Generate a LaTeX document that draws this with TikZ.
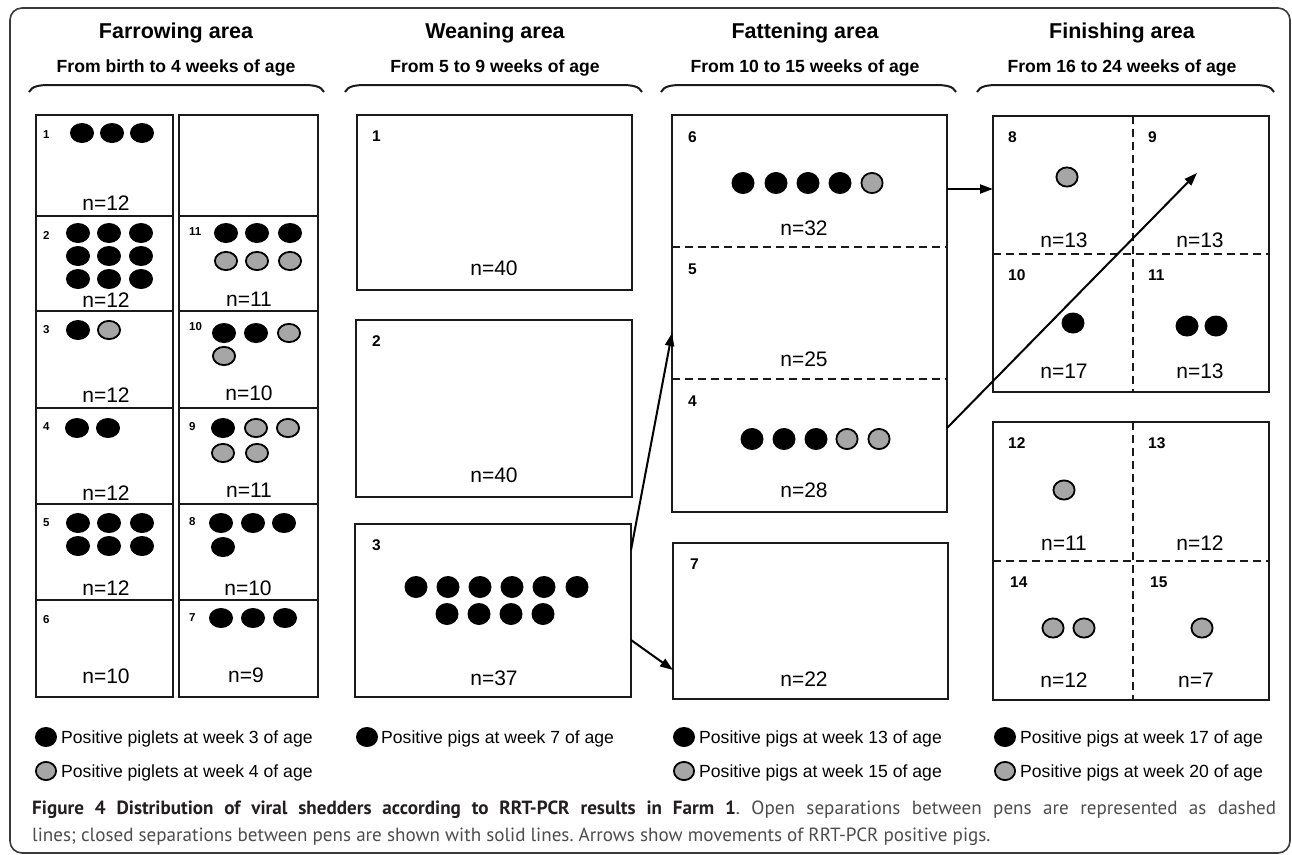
\documentclass[tikz,border=0pt]{standalone}
\usepackage{fontspec}
\setmainfont{Liberation Sans}
\newfontfamily\capfont{PT Sans}
\usetikzlibrary{arrows.meta}
\definecolor{pgray}{HTML}{A6A6A6}
\definecolor{linec}{HTML}{1A1A1A}
\definecolor{capgray}{HTML}{4D4D4D}
\definecolor{capbold}{HTML}{231F20}
\definecolor{framec}{HTML}{3A3A3A}
\newcommand\pigrx{12pt}
\newcommand\pigry{10pt}
\newcommand\bpig[2]{\fill[black] (#1,#2) ellipse [x radius=\pigrx, y radius=\pigry];}
\newcommand\gpig[2]{\draw[gp] (#1,#2) ellipse [x radius=\pigrx-0.9pt, y radius=\pigry-0.9pt];}
\newcommand\hbrace[2]{\draw[brc] (#1,92) .. controls ({#1+3},86) and ({#1+10},85) .. ({#1+22},85) -- ({#2-22},85) .. controls ({#2-10},85) and ({#2-3},86) .. (#2,92);}
\begin{document}
\frenchspacing
\begin{tikzpicture}[x=1pt,y=-1pt,
  frame/.style={draw=framec, line width=1.6pt, rounded corners=12pt},
  pen/.style={draw=linec, line width=2pt},
  sep/.style={draw=linec, line width=2pt, dash pattern=on 8pt off 5pt},
  brc/.style={draw=linec, line width=2pt},
  gp/.style={fill=pgray, draw=black, line width=1.8pt},
  mv/.style={draw=black, line width=2pt, -{Triangle[length=13pt,width=9pt]}},
  hdr/.style={font=\fontsize{21.5}{25}\selectfont\bfseries, anchor=base, inner sep=0pt},
  sub/.style={font=\fontsize{17.6}{21}\selectfont\bfseries, anchor=base, inner sep=0pt},
  cnt/.style={font=\fontsize{21}{25}\selectfont, inner sep=0pt},
  lab/.style={font=\fontsize{11.5}{13}\selectfont\bfseries, anchor=west, inner sep=0pt},
  labb/.style={font=\fontsize{15.5}{18}\selectfont\bfseries, anchor=west, inner sep=0pt},
  leg/.style={font=\fontsize{17.6}{21}\selectfont, anchor=base west, inner sep=0pt},
  capt/.style={font=\capfont\fontsize{19.1}{22}\selectfont, anchor=base west, inner sep=0pt},
]
\useasboundingbox (0,0) rectangle (1292,854);
\fill[white] (0,0) rectangle (1292,854);
\draw[frame] (10,8) rectangle (1290,853);

% headers
\node[hdr] (h1) at (176,38.5) {Farrowing area};
\node[sub] (s1) at (176,72) {From birth to 4 weeks of age};
\node[hdr] (h2) at (495,38.5) {Weaning area};
\node[sub] (s2) at (495,72) {From 5 to 9 weeks of age};
\node[hdr] (h3) at (805,38.5) {Fattening area};
\node[sub] (s3) at (805,72) {From 10 to 15 weeks of age};
\node[hdr] (h4) at (1122,38.5) {Finishing area};
\node[sub] (s4) at (1122,72) {From 16 to 24 weeks of age};
\hbrace{29}{324}
\hbrace{345}{642}
\hbrace{661}{956}
\hbrace{977}{1274}

% ---------------- Farrowing area
\draw[pen] (36,115) rectangle (173,697);
\draw[pen] (179,115) rectangle (318,697);
\foreach \yy in {216,311,408,504,600} {
  \draw[pen] (36,\yy) -- (173,\yy);
  \draw[pen] (179,\yy) -- (318,\yy);
}
\node[lab] (fa1) at (43,135) {1};
\node[lab] (fa2) at (43,235) {2};
\node[lab] (fa3) at (43,330) {3};
\node[lab] (fa4) at (43,427) {4};
\node[lab] (fa5) at (43,523) {5};
\node[lab] (fa6) at (43,620) {6};
\node[lab] (fa11) at (189,232) {11};
\node[lab] (fa10) at (189,327) {10};
\node[lab] (fa9) at (189,427) {9};
\node[lab] (fa8) at (189,522) {8};
\node[lab] (fa7) at (189,618) {7};
\node[cnt] (fn1) at (106,203) {n=12};
\node[cnt] (fn2) at (106,300) {n=12};
\node[cnt] (fn3) at (106,395) {n=12};
\node[cnt] (fn4) at (106,493) {n=12};
\node[cnt] (fn5) at (106,588) {n=12};
\node[cnt] (fn6) at (106,676) {n=10};
\node[cnt] (fn11) at (249,299) {n=11};
\node[cnt] (fn10) at (249,393) {n=10};
\node[cnt] (fn9) at (249,490) {n=11};
\node[cnt] (fn8) at (248,588) {n=10};
\node[cnt] (fn7) at (246,675) {n=9};
% pen 1
\bpig{82}{133}\bpig{112}{133}\bpig{142}{133}
% pen 2
\foreach \yy in {233,256,279} {\bpig{78}{\yy}\bpig{109}{\yy}\bpig{141}{\yy}}
% pen 3
\bpig{78}{330}\gpig{109}{330}
% pen 4
\bpig{77}{428}\bpig{108}{428}
% pen 5
\foreach \yy in {523,546} {\bpig{78}{\yy}\bpig{109}{\yy}\bpig{142}{\yy}}
% pen 11
\bpig{226}{233}\bpig{257}{233}\bpig{290}{233}
\gpig{226}{261}\gpig{257}{261}\gpig{290}{261}
% pen 10
\bpig{224}{333}\bpig{256}{333}\gpig{289}{333}
\gpig{224}{356}
% pen 9
\bpig{223}{428}\gpig{256}{428}\gpig{288}{428}
\gpig{223}{453}\gpig{257}{453}
% pen 8
\bpig{221}{523}\bpig{253}{523}\bpig{284}{523}
\bpig{223}{547}
% pen 7
\bpig{221}{618}\bpig{253}{618}\bpig{285}{618}

% ---------------- Weaning area
\draw[pen] (357,115) rectangle (632,290);
\draw[pen] (356,320) rectangle (632,497);
\draw[pen] (355,524) rectangle (631,697);
\node[labb] (wa1) at (372,136) {1};
\node[labb] (wa2) at (372,341) {2};
\node[labb] (wa3) at (372,545) {3};
\node[cnt] (wn1) at (494,268) {n=40};
\node[cnt] (wn2) at (494,475) {n=40};
\node[cnt] (wn3) at (494,678) {n=37};
\begin{scope}
\renewcommand\pigrx{11.5pt}\renewcommand\pigry{11pt}
\foreach \xx in {416,448,480,512,544,577} {\bpig{\xx}{587}}
\foreach \xx in {447,479,511,543} {\bpig{\xx}{614}}
\end{scope}

% ---------------- Fattening area
\draw[pen] (672,115) rectangle (947,512);
\draw[sep] (672,247) -- (947,247);
\draw[sep] (672,379) -- (947,379);
\draw[pen] (673,543) rectangle (948,699);
\node[labb] (ta6) at (688,137) {6};
\node[labb] (ta5) at (688,269) {5};
\node[labb] (ta4) at (688,401) {4};
\node[labb] (ta7) at (690,564) {7};
\node[cnt] (tn6) at (804,228) {n=32};
\node[cnt] (tn5) at (804,359) {n=25};
\node[cnt] (tn4) at (804,490) {n=28};
\node[cnt] (tn7) at (804,679) {n=22};
\begin{scope}
\renewcommand\pigrx{11.5pt}\renewcommand\pigry{11pt}
\bpig{743}{183}\bpig{776}{183}\bpig{808}{183}\bpig{840}{183}\gpig{872}{183}
\bpig{752}{439}\bpig{784}{439}\bpig{816}{439}\gpig{847}{439}\gpig{879}{439}
\end{scope}

% ---------------- Finishing area
\draw[pen] (993,116) rectangle (1269,392);
\draw[sep] (1133,116) -- (1133,392);
\draw[sep] (993,254) -- (1269,254);
\draw[pen] (993,422) rectangle (1269,700);
\draw[sep] (1133,422) -- (1133,700);
\draw[sep] (993,561) -- (1269,561);
\node[labb] (na8) at (1008,137) {8};
\node[labb] (na9) at (1148,137) {9};
\node[labb] (na10) at (1008,275) {10};
\node[labb] (na11) at (1148,275) {11};
\node[labb] (na12) at (1008,443) {12};
\node[labb] (na13) at (1148,443) {13};
\node[labb] (na14) at (1010,582) {14};
\node[labb] (na15) at (1150,582) {15};
\node[cnt] (nn8) at (1064,240) {n=13};
\node[cnt] (nn9) at (1200,240) {n=13};
\node[cnt] (nn10) at (1064,371) {n=17};
\node[cnt] (nn11) at (1200,371) {n=13};
\node[cnt] (nn12) at (1064,543) {n=11};
\node[cnt] (nn13) at (1200,543) {n=12};
\node[cnt] (nn14) at (1064,680) {n=12};
\node[cnt] (nn15) at (1196,680) {n=7};
\begin{scope}
\renewcommand\pigrx{11.5pt}\renewcommand\pigry{10.5pt}
\gpig{1067}{177}
\bpig{1073}{323}
\bpig{1187}{326}\bpig{1216}{326}
\gpig{1064}{490}
\gpig{1053}{628}\gpig{1084}{628}
\gpig{1202}{628}
\end{scope}

% ---------------- movements
\coordinate (w3up) at (631,550);
\coordinate (t5in) at (672,333);
\coordinate (w3dn) at (631,640);
\coordinate (t7in) at (673,670);
\coordinate (t6out) at (947,189);
\coordinate (n8in) at (993,189);
\coordinate (t4out) at (947,428);
\coordinate (n9in) at (1197,173);
\draw[mv] (w3up) -- (t5in);
\draw[mv] (w3dn) -- (t7in);
\draw[mv] (t6out) -- (n8in);
\draw[mv] (t4out) -- (n9in);

% ---------------- legend
\begin{scope}
\renewcommand\pigrx{11pt}\renewcommand\pigry{10pt}
\bpig{46}{737}\gpig{46}{771}
\bpig{367}{737}
\bpig{684}{737}\gpig{684}{771}
\bpig{1005}{737}\gpig{1005}{771}
\end{scope}
\node[leg] (l1) at (61,743.3) {Positive piglets at week 3 of age};
\node[leg] (l2) at (61,777.3) {Positive piglets at week 4 of age};
\node[leg] (l3) at (381,743.3) {Positive pigs at week 7 of age};
\node[leg] (l4) at (699,743.3) {Positive pigs at week 13 of age};
\node[leg] (l5) at (699,777.3) {Positive pigs at week 15 of age};
\node[leg] (l6) at (1020,743.3) {Positive pigs at week 17 of age};
\node[leg] (l7) at (1020,777.3) {Positive pigs at week 20 of age};

% ---------------- caption
\node[capt] (cap1) at (32,814) {\makebox[1244pt][s]{\color{capbold}\textbf{Figure 4 Distribution of viral shedders according to RRT-PCR results in Farm 1}\color{capgray}. Open separations between pens are represented as dashed}};
\node[capt] (cap2) at (32,841) {\color{capgray}lines; closed separations between pens are shown with solid lines. Arrows show movements of RRT-PCR positive pigs.};
\end{tikzpicture}
\end{document}
